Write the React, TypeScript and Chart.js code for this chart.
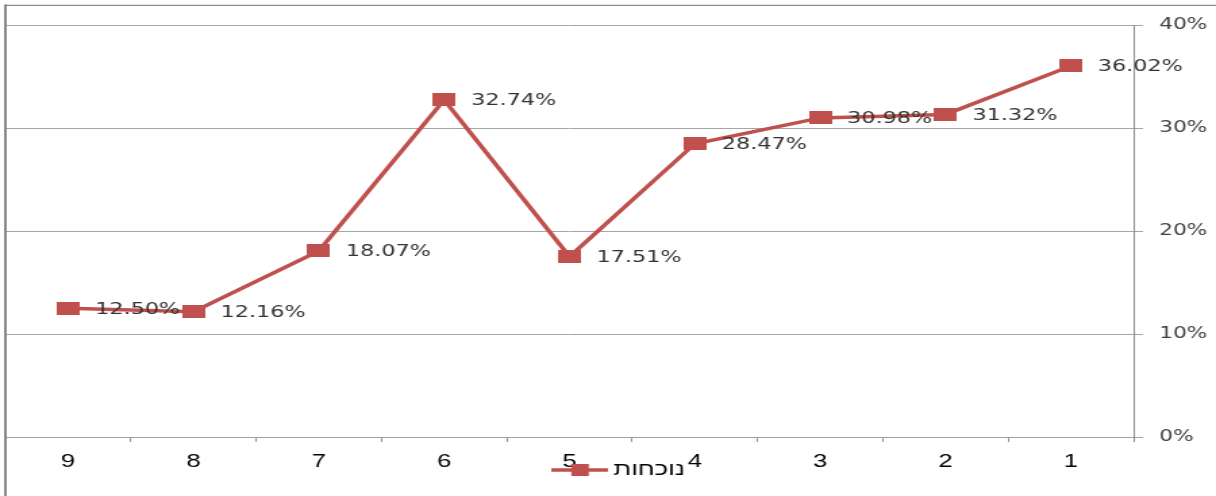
import React, { useEffect, useRef } from 'react';
import { Chart, registerables } from 'chart.js';

Chart.register(...registerables);

// ---- data ----
const categories = ['1', '2', '3', '4', '5', '6', '7', '8', '9'];
const attendance = [36.02, 31.32, 30.98, 28.47, 17.51, 32.74, 18.07, 12.16, 12.5];
const yTickValues = [0, 10, 20, 30, 40];
const seriesLabel = 'נוכחות';

// ---- render geometry (canvas drawn narrow and stretched horizontally like the source) ----
const W = 900;
const H = 496;
const CSS_W = 1216;
const RED = '#C0504D';

function makeMarker(w: number, h: number): HTMLCanvasElement {
  const c = document.createElement('canvas');
  c.width = w;
  c.height = h;
  const g = c.getContext('2d')!;
  g.fillStyle = RED;
  g.fillRect(0, 0, w, h);
  return c;
}

const framePlugin = {
  id: 'frame',
  afterDraw(chart: any) {
    const ctx = chart.ctx;
    ctx.save();
    ctx.strokeStyle = '#8a8a8a';
    ctx.lineWidth = 2;
    ctx.beginPath();
    ctx.moveTo(4, H);
    ctx.lineTo(4, 4.5);
    ctx.stroke();
    ctx.lineWidth = 1.3;
    ctx.beginPath();
    ctx.moveTo(3, 5.3);
    ctx.lineTo(W, 5.3);
    ctx.stroke();
    ctx.restore();
  },
};

const dataLabelPlugin = {
  id: 'dataLabels',
  afterDatasetsDraw(chart: any) {
    const ctx = chart.ctx;
    const meta = chart.getDatasetMeta(0);
    ctx.save();
    ctx.font = '16.5px "DejaVu Sans"';
    ctx.fillStyle = '#333333';
    ctx.textAlign = 'left';
    ctx.textBaseline = 'middle';
    meta.data.forEach((pt: any, i: number) => {
      ctx.fillText(attendance[i].toFixed(2) + '%', pt.x + 20, pt.y + 1);
    });
    ctx.restore();
  },
};

const legendPlugin = {
  id: 'customLegend',
  afterDraw(chart: any) {
    const ctx = chart.ctx;
    const cy = 470;
    ctx.save();
    ctx.strokeStyle = RED;
    ctx.lineWidth = 3.5;
    ctx.beginPath();
    ctx.moveTo(408, cy);
    ctx.lineTo(450, cy);
    ctx.stroke();
    ctx.fillStyle = RED;
    ctx.fillRect(429.3 - 6.5, cy - 6, 13, 12);
    ctx.fillStyle = '#000000';
    ctx.font = '19px "Liberation Sans"';
    ctx.textAlign = 'left';
    ctx.textBaseline = 'middle';
    ctx.fillText(seriesLabel, 454, cy);
    ctx.restore();
  },
};

export default function App() {
  const ref = useRef<HTMLCanvasElement | null>(null);

  useEffect(() => {
    const canvas = ref.current!;
    const marker = makeMarker(17, 13);
    const chart = new Chart(canvas, {
      type: 'line',
      data: {
        labels: categories,
        datasets: [
          {
            label: seriesLabel,
            data: attendance,
            borderColor: RED,
            backgroundColor: RED,
            borderWidth: 3.5,
            pointStyle: marker as any,
            pointRadius: 8,
            tension: 0,
            fill: false,
            clip: false as any,
          },
        ],
      },
      options: {
        animation: false,
        responsive: false,
        devicePixelRatio: 1,
        events: [],
        layout: { autoPadding: false, padding: { left: 4, top: 25, right: 0, bottom: 0 } },
        plugins: {
          legend: { display: false },
          tooltip: { enabled: false },
        },
        scales: {
          x: {
            reverse: true,
            offset: true,
            grid: {
              drawOnChartArea: false,
              drawTicks: true,
              tickLength: 5,
              color: '#909090',
              offset: true,
            },
            border: { display: true, color: '#a0a0a0', width: 1 },
            ticks: {
              color: '#000000',
              font: { family: 'Liberation Sans', size: 19 },
              padding: 8,
              maxRotation: 0,
              autoSkip: false,
            },
            afterFit(scale: any) {
              scale.height = H - 437;
            },
          },
          y: {
            position: 'right',
            min: 0,
            max: 40,
            grid: {
              color: '#a6a6a6',
              lineWidth: 1,
              drawTicks: true,
              tickLength: 7,
            },
            border: { display: true, color: '#909090', width: 1 },
            ticks: {
              color: '#404040',
              font: { family: 'DejaVu Sans', size: 16 },
              padding: 12,
              callback: (v: any) => v + '%',
            },
            afterBuildTicks(scale: any) {
              scale.ticks = yTickValues.map((v) => ({ value: v }));
            },
            afterFit(scale: any) {
              scale.width = W - 839;
            },
          },
        },
      },
      plugins: [framePlugin, dataLabelPlugin, legendPlugin],
    });
    return () => chart.destroy();
  }, []);

  return (
    <div style={{ position: 'fixed', left: 0, top: 0, width: CSS_W, height: H, background: '#ffffff' }}>
      <canvas
        ref={ref}
        width={W}
        height={H}
        style={{ width: CSS_W + 'px', height: H + 'px', display: 'block' }}
      />
    </div>
  );
}
